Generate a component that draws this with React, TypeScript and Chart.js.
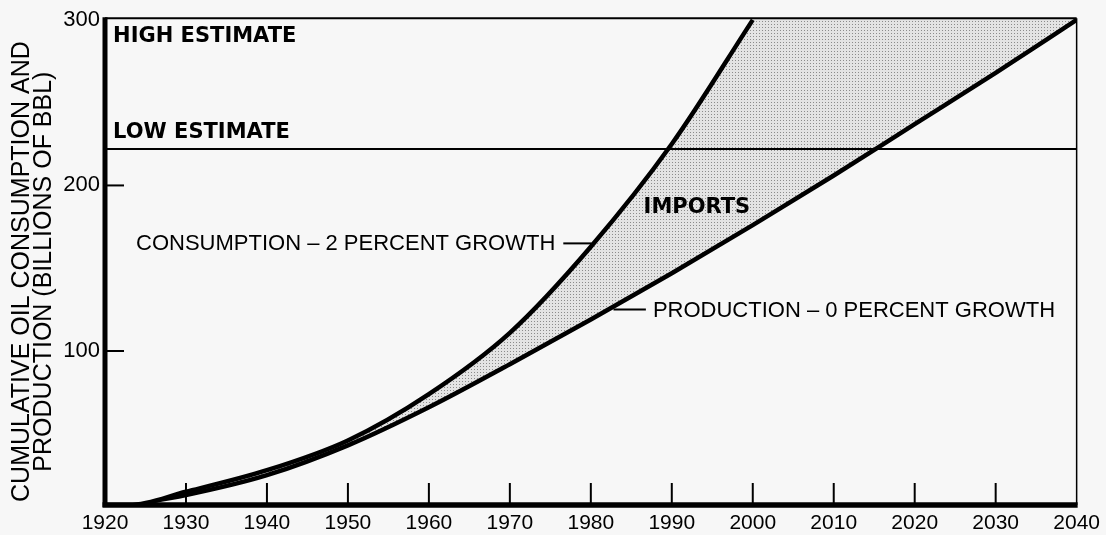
import React, { useEffect, useRef } from 'react';
import { Chart, registerables } from 'chart.js';

Chart.register(...registerables);

// ---- data ----
const consumptionYears = [1920, 1923, 1930, 1940, 1950, 1960, 1970, 1980, 1990, 2000];
const consumptionValues = [7, 7, 15, 28, 46, 74, 111, 163, 225, 300];
const productionYears = [1923, 1930, 1940, 1950, 1960, 1970, 1980, 1990, 2000, 2010, 2020, 2030, 2040];
const productionValues = [7, 13, 25, 43, 66, 92, 119, 147, 176, 206, 237, 268, 300];
const xTickYears = [1920, 1930, 1940, 1950, 1960, 1970, 1980, 1990, 2000, 2010, 2020, 2030, 2040];
const yTickValues = [100, 200, 300];
const lowEstimate = 222;
const highEstimate = 300;
const yTitleLines = ['CUMULATIVE OIL CONSUMPTION AND', 'PRODUCTION (BILLIONS OF BBL)'];
const highLabel = 'HIGH ESTIMATE';
const lowLabel = 'LOW ESTIMATE';
const importsLabel = 'IMPORTS';
const consumptionLabel = 'CONSUMPTION – 2 PERCENT GROWTH';
const productionLabel = 'PRODUCTION – 0 PERCENT GROWTH';

const BG = '#f7f7f7';
const SANS = '"Liberation Sans", Arial, sans-serif';
const HEAVY = '"DejaVu Sans", sans-serif';

export default function App() {
  const ref = useRef<HTMLCanvasElement | null>(null);

  useEffect(() => {
    document.body.style.margin = '0';
    document.body.style.background = BG;
    const canvas = ref.current!;
    const ctx0 = canvas.getContext('2d')!;

    // stipple pattern for the imports region
    const tile = document.createElement('canvas');
    tile.width = 3;
    tile.height = 3;
    const tc = tile.getContext('2d')!;
    tc.fillStyle = 'rgb(228,228,228)';
    tc.fillRect(0, 0, 3, 3);
    tc.fillStyle = 'rgb(140,140,140)';
    tc.fillRect(0, 0, 1, 1);
    const stipple = ctx0.createPattern(tile, 'repeat')!;

    const decor = {
      id: 'decor',
      beforeDraw(chart: any) {
        const c = chart.ctx;
        c.save();
        c.fillStyle = BG;
        c.fillRect(0, 0, chart.width, chart.height);
        c.restore();
      },
      afterDatasetsDraw(chart: any) {
        const c = chart.ctx;
        const X = chart.scales.x;
        const Y = chart.scales.y;
        const px = (v: number) => X.getPixelForValue(v);
        const py = (v: number) => Y.getPixelForValue(v);
        const { left, right, top, bottom } = chart.chartArea;
        c.save();
        c.strokeStyle = '#000';
        c.lineCap = 'butt';

        // top and right frame
        c.lineWidth = 2;
        c.beginPath();
        c.moveTo(left, top);
        c.lineTo(right, top);
        c.stroke();
        c.lineWidth = 1.5;
        c.beginPath();
        c.moveTo(right, top);
        c.lineTo(right, bottom);
        c.stroke();

        // low estimate line
        c.lineWidth = 2;
        c.beginPath();
        c.moveTo(left, py(lowEstimate));
        c.lineTo(right, py(lowEstimate));
        c.stroke();

        // x ticks (inside, upward)
        c.lineWidth = 2;
        xTickYears.forEach((yr) => {
          if (yr === xTickYears[0] || yr === xTickYears[xTickYears.length - 1]) return;
          c.beginPath();
          c.moveTo(px(yr), bottom);
          c.lineTo(px(yr), bottom - 22);
          c.stroke();
        });
        // y ticks (inside, rightward)
        yTickValues.forEach((v) => {
          if (v === highEstimate) return;
          c.beginPath();
          c.moveTo(left, py(v));
          c.lineTo(left + 19, py(v));
          c.stroke();
        });

        // thick axes
        c.lineWidth = 5;
        c.beginPath();
        c.moveTo(left, top - 1);
        c.lineTo(left, bottom + 2);
        c.stroke();
        c.lineWidth = 5.5;
        c.beginPath();
        c.moveTo(left - 2.5, bottom);
        c.lineTo(right + 1, bottom);
        c.stroke();

        // bold labels
        c.fillStyle = '#000';
        c.textBaseline = 'middle';
        c.font = `bold 21px ${HEAVY}`;
        c.textAlign = 'left';
        c.fillText(highLabel, px(1921), py(290));
        c.fillText(lowLabel, px(1921), py(232));
        c.textAlign = 'center';
        c.fillText(importsLabel, px(1993.1), py(186.6));

        // consumption label with leader
        c.lineWidth = 2;
        c.beginPath();
        c.moveTo(px(1976.6), py(165));
        c.lineTo(px(1980.1), py(165));
        c.stroke();
        c.font = `22px ${SANS}`;
        c.textAlign = 'right';
        c.fillText(consumptionLabel, px(1976.6) - 8, py(165) + 1);

        // production label with leader
        c.beginPath();
        c.moveTo(px(1982.8), py(125));
        c.lineTo(px(1986.8), py(125));
        c.stroke();
        c.textAlign = 'left';
        c.fillText(productionLabel, px(1986.8) + 7, py(125) + 1);

        // y axis title
        c.font = `25px ${SANS}`;
        c.textAlign = 'center';
        const cy = (top + bottom) / 2 + 10;
        yTitleLines.forEach((line, i) => {
          c.save();
          c.translate(22 + i * 22, cy);
          c.rotate(-Math.PI / 2);
          c.fillText(line, 0, 0);
          c.restore();
        });
        c.restore();
      },
    };

    const chart = new Chart(canvas, {
      type: 'line',
      data: {
        datasets: [
          {
            label: 'Consumption',
            data: consumptionYears.map((x, i) => ({ x, y: consumptionValues[i] })),
            borderColor: '#000',
            borderWidth: 4.5,
            pointRadius: 0,
            cubicInterpolationMode: 'monotone',
            fill: 'end',
            backgroundColor: BG,
          },
          {
            label: 'Production',
            data: productionYears.map((x, i) => ({ x, y: productionValues[i] })),
            borderColor: '#000',
            borderWidth: 4.5,
            pointRadius: 0,
            cubicInterpolationMode: 'monotone',
            fill: 'end',
            backgroundColor: stipple,
          },
        ],
      },
      options: {
        animation: false,
        responsive: false,
        devicePixelRatio: 1,
        layout: { padding: { top: 14, right: 26, left: 0, bottom: 0 } },
        plugins: { legend: { display: false }, tooltip: { enabled: false } },
        scales: {
          x: {
            type: 'linear',
            min: 1920,
            max: 2040,
            afterBuildTicks: (s: any) => {
              s.ticks = xTickYears.map((v) => ({ value: v }));
            },
            afterFit: (s: any) => {
              s.height = 30;
            },
            grid: { display: false, drawTicks: false },
            border: { display: false },
            ticks: {
              color: '#000',
              font: { family: SANS, size: 21 },
              padding: 6,
              maxRotation: 0,
              autoSkip: false,
              callback: (v: any) => String(v),
            },
          },
          y: {
            type: 'linear',
            min: 7,
            max: 301,
            afterBuildTicks: (s: any) => {
              s.ticks = yTickValues.map((v) => ({ value: v }));
            },
            afterFit: (s: any) => {
              s.width = 105;
            },
            grid: { display: false, drawTicks: false },
            border: { display: false },
            ticks: {
              color: '#000',
              font: { family: SANS, size: 22 },
              padding: 5,
              callback: (v: any) => String(v),
            },
          },
        },
      },
      plugins: [decor],
    } as any);

    return () => chart.destroy();
  }, []);

  return <canvas ref={ref} width={1106} height={535} style={{ display: 'block', width: 1106, height: 535 }} />;
}
